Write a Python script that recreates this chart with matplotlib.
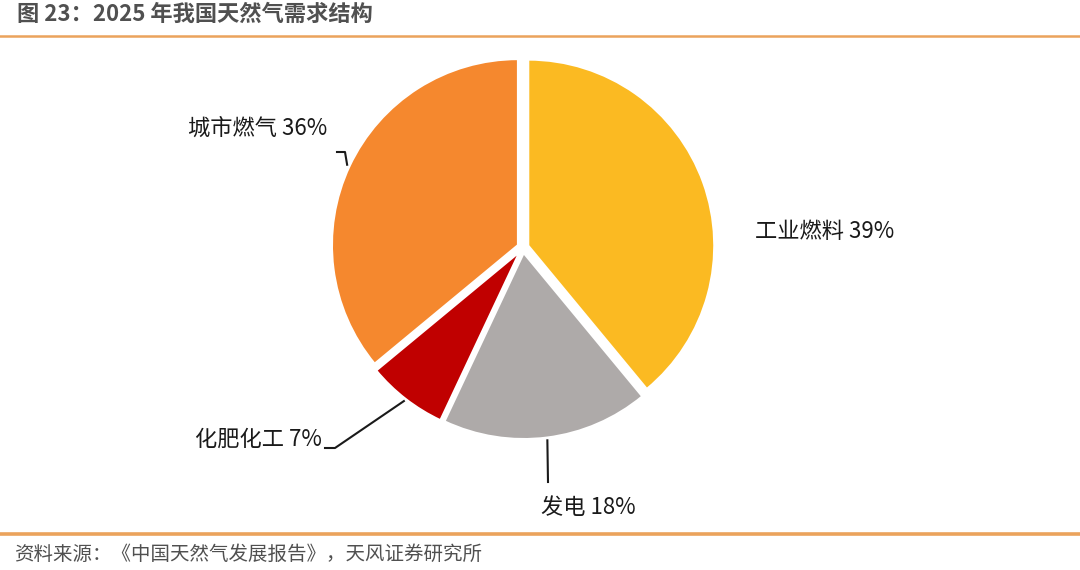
import numpy as np
import matplotlib.pyplot as plt
from matplotlib.lines import Line2D

plt.rcParams['font.family'] = ['Noto Sans CJK SC', 'DejaVu Sans']

# Datos del grafico
categorias = ['工业燃料', '发电', '化肥化工', '城市燃气']
valores = [39, 18, 7, 36]
colores = ['#FBBA22', '#AEAAA9', '#C00000', '#F5882E']
titulo = '图 23：2025 年我国天然气需求结构'
fuente = '资料来源：《中国天然气发展报告》，天风证券研究所'

W, H = 1080, 570
fig = plt.figure(figsize=(W / 100, H / 100), dpi=100)

# Centro y radio del pastel en pixeles
cx, cy, R = 523, 247.5, 186
half = 200
ax = fig.add_axes([(cx - half) / W, (H - cy - half) / H, 2 * half / W, 2 * half / H])

explode = 0.03
wedges, _ = ax.pie(valores, colors=colores, startangle=90, counterclock=False,
                   explode=[explode] * len(valores), radius=1,
                   wedgeprops=dict(edgecolor='white', linewidth=1.5))

# pie() fija sus propios limites, se ajustan despues
L = half / R
ax.set_xlim(-L, L)
ax.set_ylim(-L, L)
ax.set_aspect('equal')
ax.axis('off')


def px2d(px, py):
    return (px - cx) / R, (cy - py) / R


def punto_medio(w, r=1.045):
    ang = np.deg2rad((w.theta1 + w.theta2) / 2)
    return r * np.cos(ang), r * np.sin(ang)


# Etiquetas: (texto, posicion en pixeles, alineacion, puntos de la guia)
etiquetas = {
    '工业燃料': dict(pos=(755, 232), ha='left', guia=None),
    '发电': dict(pos=(541, 507), ha='left', guia=[(548, 482)]),
    '化肥化工': dict(pos=(322, 439), ha='right', guia=[(335, 448), (325, 448)]),
    '城市燃气': dict(pos=(327, 128), ha='right', guia=[(345, 152), (337, 152)]),
}

for w, cat, val in zip(wedges, categorias, valores):
    e = etiquetas[cat]
    fig.text(e['pos'][0] / W, 1 - e['pos'][1] / H, f'{cat} {val}%',
             ha=e['ha'], va='center', fontsize=16, color='#1a1a1a')
    if e['guia']:
        pts = [punto_medio(w)] + [px2d(*p) for p in e['guia']]
        xs, ys = zip(*pts)
        ax.plot(xs, ys, color='#1a1a1a', lw=1.5, clip_on=False)

# Titulo, lineas y fuente
fig.text(17 / W, 1 - 14 / H, titulo, ha='left', va='center', fontsize=16,
         fontweight='bold', color='#505050')
fig.add_artist(Line2D([0, 1], [1 - 36 / H] * 2, color='#EBA35C', lw=1.8,
                      transform=fig.transFigure))
fig.add_artist(Line2D([0, 1], [1 - 534 / H] * 2, color='#EBA35C', lw=2.6,
                      transform=fig.transFigure))
fig.text(14 / W, 1 - 554 / H, fuente, ha='left', va='center', fontsize=14,
         color='#505050')

fig.savefig('out.png', dpi=100)
